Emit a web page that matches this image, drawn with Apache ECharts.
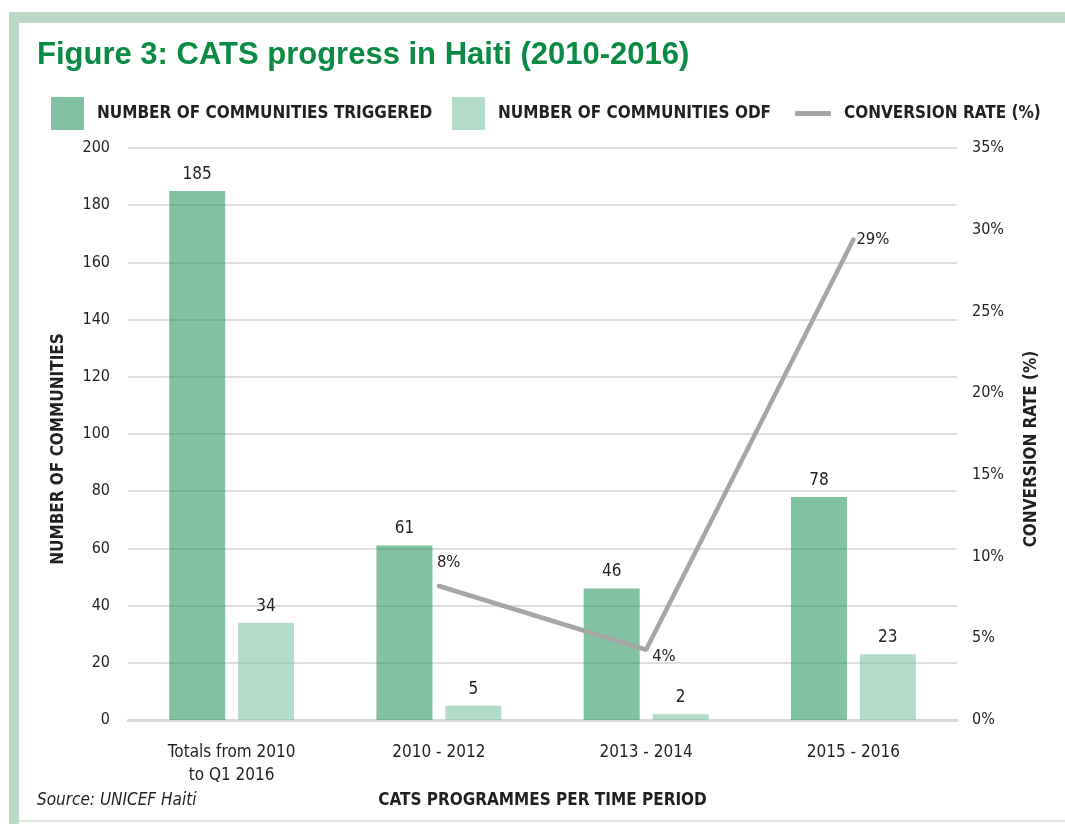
<!DOCTYPE html>
<html>
<head>
<meta charset="utf-8">
<script src="https://cdn.jsdelivr.net/npm/echarts@6/dist/echarts.min.js"></script>
<style>
html,body{margin:0;padding:0;background:#fff;}
#chart{width:1065px;height:824px;}
</style>
</head>
<body>
<div id="chart"></div>
<script>
// ---- data ----
const categories = ['Totals from 2010\nto Q1 2016', '2010 - 2012', '2013 - 2014', '2015 - 2016'];
const triggered = [185, 61, 46, 78];
const odf = [34, 5, 2, 23];
const conversionRate = [null, 8.2, 4.3, 29.4];
const seriesNames = ['NUMBER OF COMMUNITIES TRIGGERED', 'NUMBER OF COMMUNITIES ODF', 'CONVERSION RATE (%)'];
const titleText = 'Figure 3: CATS progress in Haiti (2010-2016)';
const sourceText = 'Source: UNICEF Haiti';

// ---- styles ----
const NARROW = "'Liberation Sans Narrow', 'DejaVu Sans Condensed', 'Roboto', sans-serif";
const TXT = '#231f20';
const labelOffsets = [[0, 0], [-7, -23], [1, 7], [-2, 0]];

const chart = echarts.init(document.getElementById('chart'));

const lineData = conversionRate.map((v, i) => v == null ? null : { value: v, label: { offset: labelOffsets[i] } });

function legendFor(name, left, top, w, h, icon) {
  return {
    data: [{ name: name, icon: icon }],
    left: left, top: top, padding: 0,
    itemWidth: w, itemHeight: h,
    selectedMode: false,
    textStyle: { fontFamily: NARROW, fontWeight: 'bold', fontSize: 17, color: TXT, padding: [0, 0, 0, 8] }
  };
}

chart.setOption({
  backgroundColor: '#ffffff',
  animation: false,
  graphic: [
    { type: 'rect', shape: { x: 9, y: 12, width: 1056, height: 11 }, style: { fill: '#bdd7c6' } },
    { type: 'rect', shape: { x: 9, y: 12, width: 10, height: 812 }, style: { fill: '#bdd7c6' } },
    { type: 'rect', shape: { x: 19, y: 820, width: 1046, height: 2 }, style: { fill: '#dbe6df' } },
    { type: 'text', left: 37, top: 40, style: { text: titleText, font: "bold 31px 'Liberation Sans', Arial, sans-serif", fill: '#0a8a45' } },
    { type: 'text', left: 37, top: 792, style: { text: sourceText, font: "italic 17px " + NARROW, fill: TXT } }
  ],
  legend: [
    legendFor(seriesNames[0], 51, 97, 33, 33, 'rect'),
    legendFor(seriesNames[1], 452, 97, 33, 33, 'rect'),
    legendFor(seriesNames[2], 795, 105, 36, 5, 'roundRect')
  ],
  grid: { left: 128, right: 108, top: 148, bottom: 104 },
  xAxis: {
    type: 'category',
    data: categories,
    axisLine: { show: true, lineStyle: { color: '#d9d9d9', width: 3 } },
    axisTick: { show: false },
    axisLabel: { fontFamily: NARROW, fontSize: 17, color: TXT, lineHeight: 23, margin: 21, interval: 0 },
    name: 'CATS PROGRAMMES PER TIME PERIOD',
    nameLocation: 'middle',
    nameGap: 51,
    nameTextStyle: { fontFamily: NARROW, fontWeight: 'bold', fontSize: 17, color: TXT }
  },
  yAxis: [
    {
      type: 'value', min: 0, max: 200, interval: 20,
      axisLine: { show: false }, axisTick: { show: false },
      splitLine: { show: true, lineStyle: { color: '#dedede', width: 2 } },
      axisLabel: { fontFamily: NARROW, fontSize: 16, color: TXT, margin: 18 },
      name: 'NUMBER OF COMMUNITIES',
      nameLocation: 'middle', nameRotate: 90, nameGap: 61,
      nameTextStyle: { fontFamily: NARROW, fontWeight: 'bold', fontSize: 17, color: TXT, padding: [0, 30, 0, 0] }
    },
    {
      type: 'value', min: 0, max: 35, interval: 5, position: 'right',
      axisLine: { show: false }, axisTick: { show: false },
      splitLine: { show: false },
      axisLabel: { fontFamily: NARROW, fontSize: 16, color: TXT, margin: 15, formatter: '{value}%' },
      name: 'CONVERSION RATE (%)',
      nameLocation: 'middle', nameRotate: 90, nameGap: 66,
      nameTextStyle: { fontFamily: NARROW, fontWeight: 'bold', fontSize: 17, color: TXT, padding: [0, 30, 0, 0] }
    }
  ],
  series: [
    {
      name: seriesNames[0], type: 'bar', data: triggered, yAxisIndex: 0,
      barWidth: 56, barGap: '23%',
      itemStyle: { color: 'rgba(36,148,94,0.57)' },
      label: { show: true, position: 'top', distance: 8, fontFamily: NARROW, fontSize: 17, color: TXT }
    },
    {
      name: seriesNames[1], type: 'bar', data: odf, yAxisIndex: 0,
      barWidth: 56, barGap: '23%',
      itemStyle: { color: 'rgba(122,194,159,0.57)' },
      label: { show: true, position: 'top', distance: 8, fontFamily: NARROW, fontSize: 17, color: TXT }
    },
    {
      name: seriesNames[2], type: 'line', data: lineData, yAxisIndex: 1,
      color: '#a6a6a6',
      showSymbol: true, symbol: 'circle', symbolSize: 0,
      lineStyle: { color: '#a6a6a6', width: 4.5, cap: 'round' },
      label: {
        show: true, position: 'right', distance: 5,
        fontFamily: NARROW, fontSize: 16.5, color: TXT,
        formatter: p => Math.round(p.value) + '%'
      },
      z: 3
    }
  ]
});
</script>
</body>
</html>
